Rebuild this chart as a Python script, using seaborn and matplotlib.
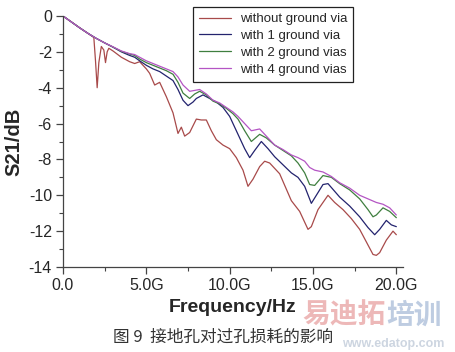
# s21_ground_vias.py

import pandas as pd
import matplotlib.pyplot as plt
import seaborn as sns

# --- Datos (frecuencia en GHz, S21 en dB) ---
series_names = ["without ground via", "with 1 ground via", "with 2 ground vias", "with 4 ground vias"]
series_colors = ["#a84a4a", "#23236e", "#3f7f3f", "#b455c4"]

freq_none = [0, 0.5, 1.0, 1.5, 1.85, 1.95, 2.05, 2.15, 2.3, 2.45, 2.55, 2.65, 2.75, 3.0, 3.5,
             4.0, 4.3, 4.6, 5.0, 5.2, 5.5, 5.8, 6.2, 6.6, 6.9, 7.1, 7.3, 7.6, 8.0, 8.3, 8.6,
             8.9, 9.2, 9.6, 10.0, 10.4, 10.8, 11.1, 11.4, 11.8, 12.1, 12.4, 13.0, 13.7, 14.2,
             14.7, 14.9, 15.3, 15.9, 16.3, 16.8, 17.3, 17.8, 18.2, 18.6, 18.8, 19.0, 19.4, 19.8, 20.0]
s21_none = [0, -0.33, -0.66, -0.97, -1.2, -2.5, -4.0, -2.6, -1.7, -1.9, -2.6, -2.0, -1.8, -1.95, -2.3,
            -2.55, -2.65, -2.55, -2.95, -3.2, -3.85, -3.7, -4.5, -5.4, -6.55, -6.2, -6.7, -6.5, -5.75, -5.8, -5.8,
            -6.4, -6.9, -7.2, -7.4, -7.9, -8.6, -9.5, -9.1, -8.4, -8.1, -8.2, -8.8, -10.3, -10.9,
            -11.9, -11.75, -10.8, -10.0, -10.4, -10.8, -11.3, -11.9, -12.6, -13.3, -13.35, -13.2, -12.5, -12.0, -12.2]

freq_1via = [0, 0.5, 1.0, 1.5, 2.0, 2.5, 3.0, 3.5, 4.0, 4.3, 4.6, 5.0, 5.4, 5.8, 6.2, 6.6, 6.9,
             7.2, 7.5, 7.8, 8.0, 8.4, 8.8, 9.2, 9.6, 10.0, 10.5, 10.9, 11.2, 11.5, 11.9, 12.3,
             12.7, 13.2, 13.7, 14.1, 14.5, 14.9, 15.2, 15.6, 15.9, 16.6, 17.2, 17.8, 18.3, 18.7,
             19.0, 19.4, 19.7, 20.0]
s21_1via = [0, -0.33, -0.66, -0.97, -1.25, -1.5, -1.74, -2.0, -2.2, -2.3, -2.5, -2.75, -2.95, -3.1, -3.35, -3.6, -4.1,
            -4.7, -5.0, -4.8, -4.6, -4.4, -4.6, -4.8, -5.1, -5.6, -6.6, -7.4, -7.9, -7.5, -7.0, -7.4,
            -7.85, -8.3, -8.75, -9.0, -9.5, -10.45, -10.0, -9.4, -9.35, -10.1, -10.6, -11.2, -11.8, -12.2,
            -11.9, -11.4, -11.65, -11.75]

freq_2via = [0, 0.5, 1.0, 1.5, 2.0, 2.5, 3.0, 3.5, 4.0, 4.3, 4.6, 5.0, 5.4, 5.8, 6.2, 6.6, 6.9,
             7.2, 7.6, 7.9, 8.2, 8.6, 9.0, 9.4, 9.8, 10.2, 10.5, 10.9, 11.3, 11.8, 12.2, 12.7,
             13.2, 13.7, 14.1, 14.5, 14.8, 15.1, 15.6, 16.1, 16.6, 17.2, 17.8, 18.3, 18.6, 18.8,
             19.2, 19.6, 20.0]
s21_2via = [0, -0.33, -0.66, -0.97, -1.25, -1.5, -1.73, -1.97, -2.12, -2.2, -2.4, -2.6, -2.75, -2.9, -3.05, -3.25, -3.7,
            -4.3, -4.6, -4.35, -4.2, -4.4, -4.75, -4.9, -5.15, -5.45, -5.75, -6.4, -7.0, -6.6, -6.8, -7.2,
            -7.5, -7.8, -8.2, -8.75, -9.4, -9.45, -8.9, -9.0, -9.35, -9.7, -10.2, -10.8, -11.2, -11.1,
            -10.7, -10.9, -11.25]

freq_4via = [0, 0.5, 1.0, 1.5, 2.0, 2.5, 3.0, 3.5, 4.0, 4.3, 4.6, 5.0, 5.4, 5.8, 6.2, 6.6, 6.9,
             7.2, 7.6, 7.9, 8.2, 8.6, 9.0, 9.4, 9.8, 10.2, 10.5, 10.9, 11.3, 11.8, 12.2, 12.7,
             13.2, 13.7, 14.1, 14.5, 14.8, 15.1, 15.6, 16.1, 16.6, 17.2, 17.8, 18.3, 18.8, 19.2,
             19.6, 20.0]
s21_4via = [0, -0.33, -0.66, -0.97, -1.25, -1.5, -1.72, -1.95, -2.1, -2.15, -2.3, -2.5, -2.65, -2.8, -2.95, -3.1, -3.4,
            -3.85, -4.2, -4.15, -4.1, -4.35, -4.7, -4.85, -5.1, -5.35, -5.6, -6.0, -6.4, -6.3, -6.7, -7.2,
            -7.45, -7.75, -7.9, -8.1, -8.45, -8.6, -8.7, -8.95, -9.3, -9.6, -10.0, -10.2, -10.4, -10.5,
            -10.7, -11.1]

x_ticks = [0, 5, 10, 15, 20]
x_tick_labels = ["0.0", "5.0G", "10.0G", "15.0G", "20.0G"]
y_ticks = [0, -2, -4, -6, -8, -10, -12, -14]

# --- Tabla larga para seaborn ---
frames = []
for name, f, s in zip(series_names,
                      [freq_none, freq_1via, freq_2via, freq_4via],
                      [s21_none, s21_1via, s21_2via, s21_4via]):
    frames.append(pd.DataFrame({"freq": f, "s21": s, "serie": name}))
df = pd.concat(frames, ignore_index=True)

# --- Estilo ---
sns.set_style("ticks")
plt.rcParams["font.family"] = ["Liberation Sans", "Noto Sans CJK SC", "DejaVu Sans"]
plt.rcParams["axes.unicode_minus"] = False
cjk = ["Noto Sans CJK SC", "DejaVu Sans"]

fig = plt.figure(figsize=(4.55, 3.52), dpi=100)
ax = fig.add_axes([63 / 455, 1 - 267 / 352, 340 / 455, 251 / 352])

sns.lineplot(data=df, x="freq", y="s21", hue="serie", hue_order=series_names,
             palette=series_colors, sort=False, estimator=None, linewidth=0.9, ax=ax)

ax.set_xlim(0, 20.4)
ax.set_ylim(-14, 0)
ax.set_xticks(x_ticks)
ax.set_xticklabels(x_tick_labels)
ax.set_xticks([2.5, 7.5, 12.5, 17.5], minor=True)
ax.set_yticks(y_ticks)
ax.set_yticklabels([str(v) for v in y_ticks])
ax.set_yticks([-1, -3, -5, -7, -9, -11, -13], minor=True)
ax.tick_params(axis="both", which="major", direction="out", length=5, width=0.9,
               labelsize=11.5, color="#444444", pad=3)
ax.tick_params(axis="both", which="minor", direction="out", length=3, width=0.8, color="#444444")

sns.despine(ax=ax)
for side in ["left", "bottom"]:
    ax.spines[side].set_color("#444444")
    ax.spines[side].set_linewidth(0.9)

ax.set_xlabel("Frequency/Hz", fontsize=14, fontweight="bold", labelpad=4)
ax.set_ylabel("S21/dB", fontsize=14.5, fontweight="bold", labelpad=4)

# --- Leyenda ---
handles, labels = ax.get_legend_handles_labels()
ax.legend(handles, labels, loc="upper left", bbox_to_anchor=(193 / 455, 1 - 7 / 352),
          bbox_transform=fig.transFigure, fontsize=9.5, frameon=True, fancybox=False,
          edgecolor="#222222", framealpha=1, handlelength=2.4, handletextpad=0.7,
          labelspacing=0.35, borderpad=0.45, borderaxespad=0)
ax.get_legend().get_frame().set_linewidth(0.9)

# --- Pie de figura y marca de agua ---
fig.text(0.49, 1 - 337 / 352, "图 9  接地孔对过孔损耗的影响", ha="center", va="center",
         fontsize=12, color="#333333", family=cjk)
marca = fig.text(302 / 455, 1 - 316 / 352, "易迪拓", ha="left", va="center", fontsize=20,
                 fontweight="bold", color="#e8a0a0", alpha=0.75, family=cjk)
ax.annotate("培训", xy=(1, 0.5), xycoords=marca, xytext=(1, 0), textcoords="offset points",
            ha="left", va="center", fontsize=20, fontweight="bold", color="#a8bcd8",
            alpha=0.75, family=cjk, annotation_clip=False)
fig.text(342 / 455, 1 - 344 / 352, "www.edatop.com", ha="left", va="center", fontsize=9,
         fontweight="bold", color="#b8c4d4", alpha=0.7)

plt.savefig("out.png", dpi=100)
